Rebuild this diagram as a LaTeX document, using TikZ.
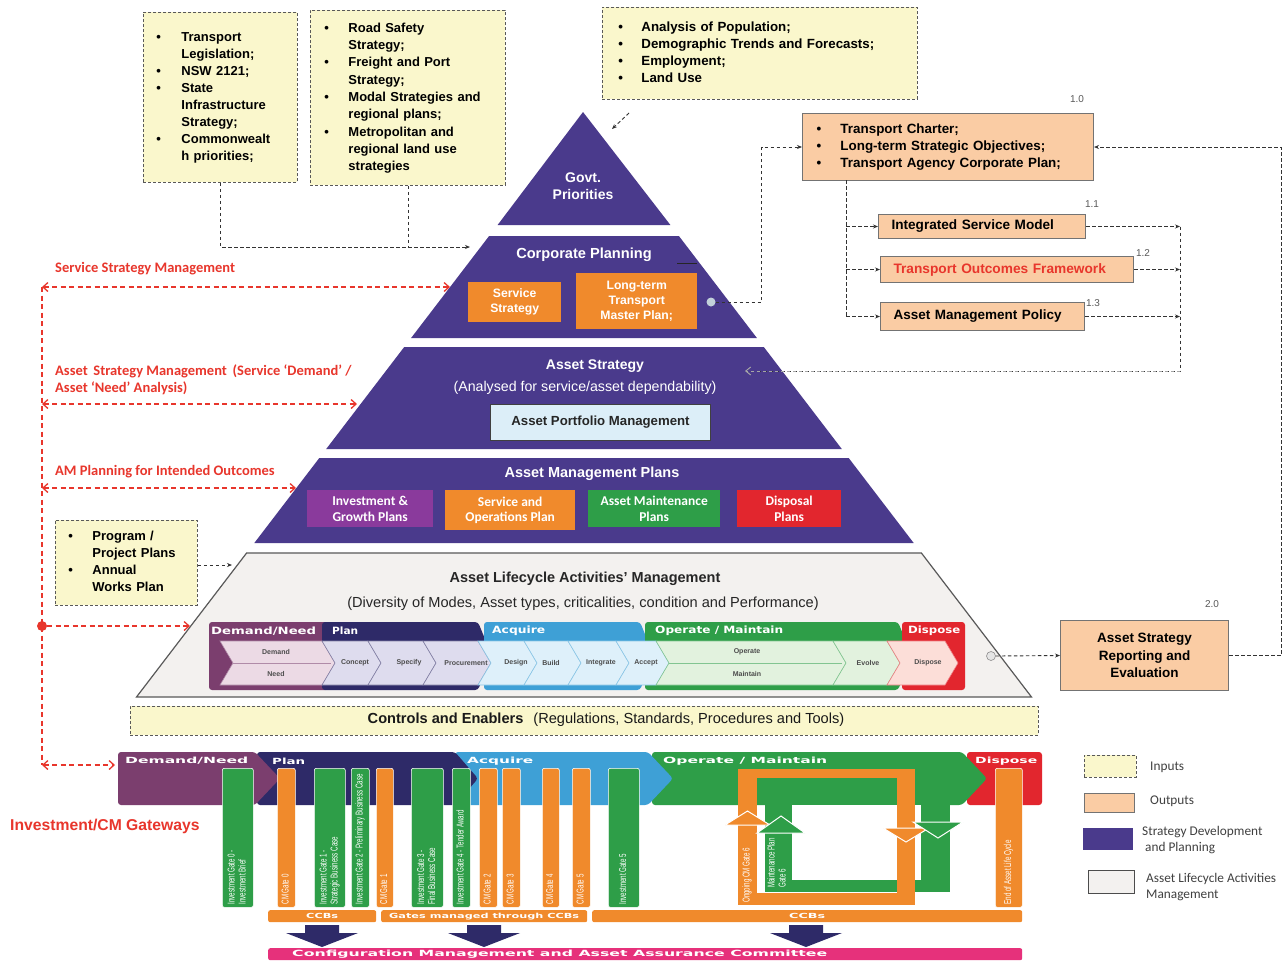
\documentclass[tikz,border=0pt]{standalone}
\usepackage{fontspec}
\setmainfont{Liberation Sans}
\newfontfamily\calib{Carlito}
\newfontfamily\wfont{DejaVu Sans}
\usetikzlibrary{arrows.meta}

\definecolor{pyr}{RGB}{74,58,140}
\definecolor{inyel}{RGB}{250,247,204}
\definecolor{outpch}{RGB}{250,204,164}
\definecolor{orng}{RGB}{240,138,44}
\definecolor{grn}{RGB}{46,158,72}
\definecolor{rd}{RGB}{226,38,46}
\definecolor{plum}{RGB}{123,62,110}
\definecolor{navy}{RGB}{46,42,104}
\definecolor{skyb}{RGB}{62,160,214}
\definecolor{magp}{RGB}{230,49,123}
\definecolor{redl}{RGB}{232,54,44}
\definecolor{purp}{RGB}{138,58,156}
\definecolor{lblue}{RGB}{220,238,248}
\definecolor{lcgray}{RGB}{243,241,239}
\definecolor{pinkl}{RGB}{236,218,229}
\definecolor{lavl}{RGB}{222,220,238}
\definecolor{bluel}{RGB}{222,240,250}
\definecolor{grnl}{RGB}{226,242,222}
\definecolor{rdl}{RGB}{252,222,216}

\newcommand\fsz[2]{\fontsize{#1}{#2}\selectfont}
\newcommand\blist[2][24pt]{\begin{tabular}{@{}p{#1}@{}l@{}}#2\end{tabular}}
\newcommand\wtxt[2]{\resizebox{#1}{\height}{#2}}
\newcommand\gscale[1]{\scalebox{0.62}[1]{\begin{tabular}{@{}l@{}}#1\end{tabular}}}
% gate bar: name, left x, width, colour, rotated label
\newcommand\gate[5]{%
  \node[gbar, fill=#4, minimum width=#3pt, anchor=north west] (#1) at (#2,768) {};
  \node[gtxt, anchor=west, rotate=90] (#1t) at ([yshift=3pt]#1.south) {\gscale{#5}};
}

\tikzset{
  inbox/.style={draw=black!65, fill=inyel, dash pattern=on 3pt off 2pt, line width=0.9pt, inner ysep=0pt},
  outbox/.style={draw=black!55, fill=outpch, line width=1pt, inner ysep=0pt},
  dasharrow/.style={draw=black!80, dash pattern=on 3.5pt off 2.5pt, line width=0.9pt, -{Stealth[length=5pt,width=4pt]}},
  dashline/.style={draw=black!80, dash pattern=on 3.5pt off 2.5pt, line width=0.9pt},
  reddash/.style={draw=redl, dash pattern=on 5pt off 3.5pt, line width=1.3pt},
  redhead/.style={{Straight Barb[length=5pt,width=9pt]}-{Straight Barb[length=5pt,width=9pt]}},
  wtitle/.style={text=white, font=\fsz{14}{17}\bfseries, align=center, inner sep=0},
  pbox/.style={text=white, font=\fsz{12.2}{15}\bfseries, align=center, inner sep=0},
  ambox/.style={text=white, font=\calib\fsz{13.5}{15.5}\bfseries, align=center, inner sep=0, anchor=north west},
  redlab/.style={text=redl, font=\calib\fsz{14.5}{17}\bfseries, inner sep=0},
  legtxt/.style={text=black!75, font=\calib\fsz{13.3}{16.5}, inner sep=0, align=left},
  numlab/.style={text=black!65, font=\fsz{10}{12}, inner sep=0},
  gbar/.style={draw=white, line width=0.6pt, rounded corners=2pt, minimum height=139pt, inner sep=0},
  gtxt/.style={text=white, font=\fsz{10}{11}, inner sep=0},
  hdr/.style={text=white, font=\wfont\fsz{10}{12}\bfseries, inner sep=0, anchor=west},
  bhdr/.style={text=white, font=\wfont\fsz{8.5}{10}\bfseries, inner sep=0, anchor=west},
  sublab/.style={text=black!70, font=\fsz{7}{8}\bfseries, inner sep=0},
  ccbtxt/.style={text=white, font=\wfont\fsz{7}{8}\bfseries},
}

\begin{document}
\begin{tikzpicture}[x=1pt,y=-1pt]
\useasboundingbox (0,0) rectangle (1287,962);
\fill[white] (0,0) rectangle (1287,962);

% ---------- input boxes ----------
\node[inbox, anchor=north west, minimum width=154pt, minimum height=170pt, text width=128pt, inner xsep=13pt, align=left, font=\fsz{13}{17}\bfseries] (inA) at (143,12)
  {\blist[25pt]{• & Transport\\ & Legislation;\\ • & NSW 2121;\\ • & State\\ & Infrastructure\\ & Strategy;\\ • & Commonwealt\\ & h priorities;}};
\node[inbox, anchor=north west, minimum width=195pt, minimum height=175pt, text width=167pt, inner xsep=14pt, align=left, font=\fsz{13}{17.3}\bfseries] (inB) at (310,10)
  {\blist[24pt]{• & Road Safety\\ & Strategy;\\ • & Freight and Port\\ & Strategy;\\ • & Modal Strategies and\\ & regional plans;\\ • & Metropolitan and\\ & regional land use\\ & strategies}};
\node[inbox, anchor=north west, minimum width=315pt, minimum height=92pt, text width=283pt, inner xsep=16pt, align=left, font=\fsz{13.3}{17}\bfseries] (inC) at (602,7)
  {\blist[23pt]{• & Analysis of Population;\\ • & Demographic Trends and Forecasts;\\ • & Employment;\\ • & Land Use}};

% ---------- pyramid ----------
\fill[pyr] (583,112) -- (670.4,225) -- (497.6,225) -- cycle;
\fill[pyr] (489.1,236) -- (678.9,236) -- (756.9,338) -- (411.1,338) -- cycle;
\fill[pyr] (404.2,347) -- (763.8,347) -- (841.8,449) -- (326.2,449) -- cycle;
\fill[pyr] (319.3,458) -- (848.7,458) -- (913.7,543) -- (254.3,543) -- cycle;
\filldraw[fill=lcgray, draw=black!65, line width=1.2pt] (246.6,553) -- (921.4,553) -- (1031.5,697) -- (136.5,697) -- cycle;

\node[wtitle] (govt) at (583,186) {Govt.\\Priorities};
\node[wtitle, font=\fsz{14.6}{17}\bfseries] (corp) at (584,255) {Corporate Planning};
\draw[black!85, line width=1pt] (677,263) -- (697,263);
\node[pbox, fill=orng, minimum width=93pt, minimum height=40pt, anchor=north west] (svc) at (468,282) {Service\\Strategy};
\node[pbox, fill=orng, minimum width=121pt, minimum height=56pt, anchor=north west] (ltmp) at (576,273) {Long-term\\Transport\\Master Plan;};
\node[circle, fill=black!12!lblue, minimum size=9pt, inner sep=0] (ltc) at (711,302) {};

\node[wtitle] (astr) at (595,366) {Asset Strategy};
\node[text=white, font=\fsz{14.2}{16}, inner sep=0] (astrsub) at (585,388) {(Analysed for service/asset dependability)};
\node[draw=black!75, fill=lblue, line width=1pt, minimum width=220pt, minimum height=36pt, anchor=north west, font=\fsz{13.2}{15}\bfseries, text=black!85, inner sep=0] (apm) at (490,404) {Asset Portfolio Management};

\node[wtitle, font=\fsz{14.5}{17}\bfseries] (amplan) at (592,474) {Asset Management Plans};
\node[ambox, fill=purp, minimum width=126pt, minimum height=37pt] (igp) at (307,490) {Investment \&\\Growth Plans};
\node[ambox, fill=orng, minimum width=130pt, minimum height=40pt] (sop) at (445,490) {Service and\\Operations Plan};
\node[ambox, fill=grn, minimum width=132pt, minimum height=37pt] (amaint) at (588,490) {Asset Maintenance\\Plans};
\node[ambox, fill=rd, minimum width=104pt, minimum height=37pt] (disp) at (737,490) {Disposal\\Plans};

\node[font=\fsz{14.5}{16}\bfseries, text=black!85, inner sep=0] (alam) at (585,579) {Asset Lifecycle Activities' Management};
\node[font=\fsz{14.6}{16}, text=black!85, inner sep=0] (alsub) at (583,604) {(Diversity of Modes, Asset types, criticalities, condition and Performance)};

% lifecycle phase blocks
\fill[plum, rounded corners=3pt] (209,622) -- (328,622) -- (342,656) -- (328,690) -- (209,690) -- cycle;
\fill[navy, rounded corners=3pt] (322,622) -- (478,622) -- (492,656) -- (478,690) -- (322,690) -- cycle;
\fill[skyb, rounded corners=3pt] (484,622) -- (640,622) -- (654,656) -- (640,690) -- (484,690) -- cycle;
\fill[grn, rounded corners=3pt] (645,622) -- (898,622) -- (912,656) -- (898,690) -- (645,690) -- cycle;
\fill[rd, rounded corners=3pt] (902,622) rectangle (965,690);
\foreach \a/\b/\f/\d in {220/322/pinkl/plum, 322/368/lavl/navy, 368/423/lavl/navy, 423/478/lavl/navy,
    478/524/bluel/skyb, 524/568/bluel/skyb, 568/616/bluel/skyb, 616/656/bluel/skyb,
    656/833/grnl/grn, 833/887/grnl/grn, 887/945/rdl/rd}
  \filldraw[fill=\f, draw=\d!60, line width=0.6pt] (\a,641) -- (\b,641) -- ({\b+13},663) -- (\b,685) -- (\a,685) -- ({\a+13},663) -- cycle;
\draw[plum!60, line width=0.6pt] (233,663) -- (331,663);
\draw[grn!60, line width=0.6pt] (669,663) -- (842,663);
\node[hdr] (hDN) at (211,631) {\wtxt{105pt}{Demand/Need}};
\node[hdr] (hPl) at (332,631) {\wtxt{26pt}{Plan}};
\node[hdr] (hAc) at (492,631) {\wtxt{53pt}{Acquire}};
\node[hdr] (hOM) at (655,631) {\wtxt{128pt}{Operate / Maintain}};
\node[hdr] (hDi) at (908,631) {\wtxt{52pt}{Dispose}};
\node[sublab] (sDem) at (276,652) {Demand};
\node[sublab] (sNee) at (276,674) {Need};
\node[sublab] (sCon) at (355,663) {Concept};
\node[sublab] (sSpe) at (409,663) {Specify};
\node[sublab] (sPro) at (466,663) {Procurement};
\node[sublab] (sDes) at (516,663) {Design};
\node[sublab] (sBui) at (551,663) {Build};
\node[sublab] (sInt) at (601,663) {Integrate};
\node[sublab] (sAcc) at (646,663) {Accept};
\node[sublab] (sOpe) at (747,652) {Operate};
\node[sublab] (sMai) at (747,674) {Maintain};
\node[sublab] (sEvo) at (868,663) {Evolve};
\node[sublab] (sDis) at (928,663) {Dispose};
\node[circle, fill=black!10, draw=black!45, line width=0.6pt, minimum size=9pt, inner sep=0] (lcc) at (991,656) {};

% controls and enablers
\node[inbox, anchor=north west, minimum width=908pt, minimum height=29pt] (ctrl) at (130,706) {};
\node[font=\fsz{14.6}{16}, text=black!90, inner sep=0] (ctrlt) at (606,720) {\textbf{Controls and Enablers}\hspace{10pt}(Regulations, Standards, Procedures and Tools)};

% ---------- outputs ----------
\node[outbox, anchor=north west, minimum width=291pt, minimum height=67pt, text width=263pt, inner xsep=14pt, align=left, font=\fsz{13.4}{17}\bfseries] (out10) at (802,113)
  {\blist[24pt]{• & Transport Charter;\\ • & Long-term Strategic Objectives;\\ • & Transport Agency Corporate Plan;}};
\node[numlab] (n10) at (1077,99) {1.0};
\node[outbox, anchor=north west, minimum width=207pt, minimum height=24pt, text width=181pt, inner xsep=13pt, align=left, font=\fsz{13.6}{15}\bfseries] (ism) at (878,214) {Integrated Service Model};
\node[numlab] (n11) at (1092,204) {1.1};
\node[outbox, anchor=north west, minimum width=253pt, minimum height=26pt, text width=227pt, inner xsep=13pt, align=left, font=\fsz{13.7}{15}\bfseries, text=redl] (tof) at (880,256) {Transport Outcomes Framework};
\node[numlab] (n12) at (1143,253) {1.2};
\node[outbox, anchor=north west, minimum width=204pt, minimum height=28pt, text width=178pt, inner xsep=13pt, align=left, font=\fsz{13.5}{15}\bfseries] (ampol) at (880,302) {Asset Management Policy};
\node[numlab] (n13) at (1093,303) {1.3};
\node[outbox, anchor=north west, minimum width=168pt, minimum height=70pt, align=center, font=\fsz{13.5}{17.5}\bfseries] (asr) at (1060,620) {Asset Strategy\\Reporting and\\Evaluation};
\node[numlab] (n20) at (1212,604) {2.0};

\node[inbox, anchor=north west, minimum width=142pt, minimum height=85pt, text width=116pt, inner xsep=13pt, align=left, font=\fsz{13}{17}\bfseries] (ppp) at (55,520)
  {\blist[24pt]{• & Program /\\ & Project Plans\\ • & Annual\\ & Works Plan}};

% ---------- black dashed connectors ----------
\coordinate (cpIn) at (470,247);
\draw[dasharrow] (inA.south) |- (cpIn);
\draw[dashline] (inB.south) -- (inB.south |- cpIn);
\coordinate (gaS) at (629,113);
\coordinate (gaE) at (612,129);
\draw[dasharrow] (gaS) -- (gaE);
\draw[dasharrow] (ltc.east) -- ++(46,0) |- (out10.west);
\coordinate (o10b) at (846,180);
\draw[dashline] (o10b) -- (o10b |- ampol.west);
\draw[dasharrow] (o10b |- ism.west) -- (ism.west);
\draw[dasharrow] (o10b |- tof.west) -- (tof.west);
\draw[dasharrow] (o10b |- ampol.west) -- (ampol.west);
\coordinate (colR) at (1180,0);
\coordinate (astArr) at (745,371);
\draw[dasharrow] (ism.east) -- (ism.east -| colR);
\draw[dasharrow] (tof.east) -- (tof.east -| colR);
\draw[dasharrow] (ampol.east) -- (ampol.east -| colR);
\draw[dashline] (ism.east -| colR) -- (colR |- astArr) -- (760,371);
\draw[draw=black!35, dash pattern=on 3.5pt off 2.5pt, line width=0.9pt, -{Straight Barb[length=5pt,width=8pt]}] (colR |- astArr) -- (astArr);
\draw[dasharrow] (asr.east) -- ++(52,0) |- (out10.east);
\draw[dasharrow] (lcc.east) -- (asr.west);
\coordinate (lcArr) at (232,565);
\draw[dasharrow] (ppp.east |- lcArr) -- (lcArr);

% ---------- red management links ----------
\node[redlab, anchor=west] (lbSSM) at (55,269) {Service Strategy Management};
\node[redlab, anchor=west, align=left] (lbASM) at (55,380) {Asset\, Strategy Management\, (Service ‘Demand’ /\\Asset ‘Need’ Analysis)};
\node[redlab, anchor=west] (lbAMP) at (55,472) {AM Planning for Intended Outcomes};
\coordinate (rTop) at (42,287);
\coordinate (rBot) at (42,765);
\draw[reddash] (rTop) -- (rBot);
\coordinate (cpL) at (450,287);
\draw[reddash, redhead] (rTop) -- (cpL);
\coordinate (r2) at (42,404);
\coordinate (asL) at (357,404);
\draw[reddash, redhead] (r2) -- (asL);
\coordinate (r3) at (42,488);
\coordinate (amL) at (296,488);
\draw[reddash, redhead] (r3) -- (amL);
\node[circle, fill=redl, minimum size=10pt, inner sep=0] (rdot) at (42,626) {};
\coordinate (lcL) at (190,626);
\draw[reddash, -{Straight Barb[length=5pt,width=9pt]}] (rdot) -- (lcL);
\coordinate (dnL) at (115,765);
\draw[reddash, redhead] (rBot) -- (dnL);
\node[text=redl, font=\fsz{15.7}{18}\bfseries, inner sep=0, anchor=west] (gwlab) at (10,826) {Investment/CM Gateways};

% ---------- gateway bands ----------
\fill[rd, rounded corners=3pt] (967,752) rectangle (1042,805);
\fill[grn, rounded corners=3pt] (652,752) -- (962,752) -- (987,778.5) -- (962,805) -- (652,805) -- cycle;
\fill[skyb, rounded corners=3pt] (455,752) -- (648,752) -- (673,778.5) -- (648,805) -- (455,805) -- cycle;
\fill[navy, rounded corners=3pt] (257,752) -- (455,752) -- (478,778.5) -- (455,805) -- (257,805) -- cycle;
\fill[plum, rounded corners=3pt] (118,752) -- (255,752) -- (280,778.5) -- (255,805) -- (118,805) -- cycle;
\node[bhdr] (bDN) at (125,761) {\wtxt{123pt}{Demand/Need}};
\node[bhdr] (bPl) at (272,761) {\wtxt{33pt}{Plan}};
\node[bhdr] (bAc) at (467,761) {\wtxt{66pt}{Acquire}};
\node[bhdr] (bOM) at (663,761) {\wtxt{164pt}{Operate / Maintain}};
\node[bhdr] (bDi) at (975,761) {\wtxt{62pt}{Dispose}};

% gate bars
\gate{g0}{222}{31}{grn}{Investment Gate 0 -\\Investment Brief}
\gate{c0}{277}{18}{orng}{CM Gate 0}
\gate{g1}{314}{31}{grn}{Investment Gate 1 -\\Strategic Business Case}
\gate{g2}{351}{18}{grn}{Investment Gate 2 - Preliminary Business Case}
\gate{c1}{376}{17}{orng}{CM Gate 1}
\gate{g3}{411}{32}{grn}{Investment Gate 3 -\\Final Business Case}
\gate{g4}{452}{18}{grn}{Investment Gate 4 - Tender Award}
\gate{c2}{479}{18}{orng}{CM Gate 2}
\gate{c3}{502}{18}{orng}{CM Gate 3}
\gate{c4}{542}{17}{orng}{CM Gate 4}
\gate{c5}{572}{18}{orng}{CM Gate 5}
\gate{g5}{608}{31}{grn}{Investment Gate 5}
\gate{eol}{995}{27}{orng}{End of Asset Life Cycle}

% operate / maintain cycles
\fill[white] (792,805) rectangle (921,880);
\fill[grn] (765,790) rectangle (792,892);
\fill[grn] (765,880) rectangle (950,892);
\fill[grn] (921,778) rectangle (950,892);
\fill[orng] (738,769) rectangle (757,905);
\fill[orng] (738,769) rectangle (915,778);
\fill[orng] (897,769) rectangle (915,905);
\fill[orng] (738,893) rectangle (915,905);
\filldraw[fill=orng, draw=white, line width=1pt] (725,825) -- (747.5,811) -- (770,825) -- cycle;
\filldraw[fill=grn, draw=white, line width=1pt] (757,833) -- (781,816) -- (805,833) -- cycle;
\filldraw[fill=orng, draw=white, line width=1pt] (883,828) -- (906,842) -- (929,828) -- cycle;
\filldraw[fill=grn, draw=white, line width=1pt] (913,822) -- (938,838) -- (963,822) -- cycle;
\node[gtxt, anchor=west, rotate=90] (og6) at (747.5,903) {\gscale{Ongoing CM Gate 6}};
\node[gtxt, anchor=west, rotate=90] (mp6) at (778,888) {\gscale{Maintenance Plan\\Gate 6}};

% CCB bars, arrows and committee
\node[fill=orng, rounded corners=2pt, anchor=north west, minimum width=108pt, minimum height=12pt, inner sep=0, ccbtxt] (ccb1) at (268,910) {\wtxt{32pt}{CCBs}};
\node[fill=orng, rounded corners=2pt, anchor=north west, minimum width=206pt, minimum height=12pt, inner sep=0, ccbtxt] (ccb2) at (381,910) {\wtxt{190pt}{Gates managed through CCBs}};
\node[fill=orng, rounded corners=2pt, anchor=north west, minimum width=430pt, minimum height=12pt, inner sep=0, ccbtxt] (ccb3) at (592,910) {\wtxt{36pt}{CCBs}};
\foreach \c in {322,484,806}
  \fill[navy] ({\c-17},925) -- ({\c+17},925) -- ({\c+17},933) -- ({\c+36},933) -- (\c,947) -- ({\c-36},933) -- ({\c-17},933) -- cycle;
\node[fill=magp, rounded corners=2pt, anchor=north west, minimum width=754pt, minimum height=12pt, inner sep=0] (cmaac) at (268,948) {};
\node[text=white, font=\wfont\fsz{8.5}{10}\bfseries, inner sep=0, anchor=west] (cmaact) at (292,954) {\wtxt{535pt}{Configuration Management and Asset Assurance Committee}};

% ---------- legend ----------
\node[inbox, anchor=north west, minimum width=52pt, minimum height=22pt] (lgIn) at (1084,755) {};
\node[legtxt, anchor=west] (lgInT) at (1150,767) {Inputs};
\node[outbox, anchor=north west, minimum width=50pt, minimum height=19pt] (lgOut) at (1084,793) {};
\node[legtxt, anchor=west] (lgOutT) at (1150,801) {Outputs};
\node[fill=pyr, anchor=north west, minimum width=50pt, minimum height=22pt, inner sep=0] (lgStr) at (1083,828) {};
\node[legtxt, anchor=west] (lgStrT) at (1142,840) {Strategy Development\\\ and Planning};
\node[draw=black!70, fill=lcgray, line width=1.2pt, anchor=north west, minimum width=46pt, minimum height=23pt, inner sep=0] (lgLc) at (1088,870) {};
\node[legtxt, anchor=west] (lgLcT) at (1146,887) {Asset Lifecycle Activities\\Management};
\end{tikzpicture}
\end{document}
